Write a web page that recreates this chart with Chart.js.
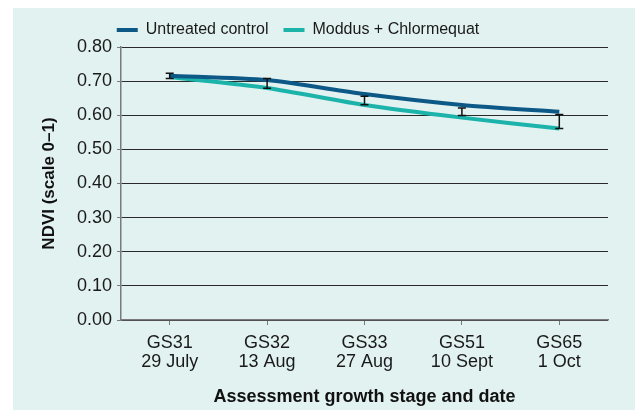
<!DOCTYPE html>
<html>
<head>
<meta charset="utf-8">
<script src="https://cdn.jsdelivr.net/npm/chart.js@4.4.1/dist/chart.umd.min.js"></script>
<style>
  body { margin: 0; background: #ffffff; }
  #panel { position: absolute; left: 13px; top: 8px; width: 622px; height: 402px; background: #e2f2f1; }
  #myChart { position: absolute; left: 0; top: 0; }
</style>
</head>
<body>
<div id="panel"></div>
<canvas id="myChart" width="640" height="410"></canvas>
<script>
// NDVI by assessment growth stage
const stages = ['GS31', 'GS32', 'GS33', 'GS51', 'GS65']
const dates = ['29 July', '13 Aug', '27 Aug', '10 Sept', '1 Oct']
const untreated = [0.716, 0.703, 0.662, 0.630, 0.610]
const moddus = [0.712, 0.680, 0.630, 0.593, 0.561]
// error bar ends at each stage
const errLow = [0.708, 0.679, 0.631, 0.599, 0.561]
const errHigh = [0.723, 0.708, 0.656, 0.621, 0.602]

const FONT = "'Liberation Sans', Arial, Helvetica, sans-serif"

// draws the black error bars on top of the lines
const errorBars = {
    id: 'errorBars',
    afterDatasetsDraw(chart) {
        const ctx = chart.ctx
        const x = chart.scales.x
        const y = chart.scales.y
        ctx.save()
        ctx.strokeStyle = '#111'
        ctx.lineWidth = 1.5
        errLow.forEach((lo, i) => {
            const px = x.getPixelForValue(i)
            const top = y.getPixelForValue(errHigh[i])
            const bot = y.getPixelForValue(lo)
            ctx.beginPath()
            ctx.moveTo(px, top); ctx.lineTo(px, bot)
            ctx.moveTo(px - 4, top); ctx.lineTo(px + 4, top)
            ctx.moveTo(px - 4, bot); ctx.lineTo(px + 4, bot)
            ctx.stroke()
        })
        ctx.restore()
    }
}

const ctx = document.getElementById('myChart')
const myChart = new Chart(ctx, {
    type: 'line',
    data: {
        labels: stages.map((s, i) => [s, dates[i]]),
        datasets: [{
            label: 'Untreated control',
            data: untreated,
            borderColor: '#0c5987',
            backgroundColor: '#0c5987',
            borderWidth: 4,
            pointRadius: 0,
            tension: 0.25
        }, {
            label: 'Moddus + Chlormequat',
            data: moddus,
            borderColor: '#1cb3aa',
            backgroundColor: '#1cb3aa',
            borderWidth: 4,
            pointRadius: 0,
            tension: 0.25
        }]
    },
    options: {
        responsive: false,
        animation: false,
        devicePixelRatio: 1,
        layout: {
            // negative left pad moves the centred legend left a little
            padding: { top: 7, left: -12, right: 32, bottom: 0 }
        },
        scales: {
            x: {
                offset: true,
                afterFit: function(scale) { scale.height = 90 },
                border: { color: '#7a7a7a', width: 1.5 },
                grid: { drawOnChartArea: false, offset: false, tickLength: 5, color: '#7a7a7a' },
                ticks: {
                    color: '#1a1a1a',
                    padding: 8,
                    maxRotation: 0,
                    font: { family: FONT, size: 18, lineHeight: 1.08 }
                },
                title: {
                    display: true,
                    text: 'Assessment growth stage and date',
                    color: '#111',
                    font: { family: FONT, size: 18, weight: 'bold' },
                    padding: { top: 0, bottom: 2.5 }
                }
            },
            y: {
                min: 0,
                max: 0.8,
                afterFit: function(scale) { scale.width = 133 },
                border: { color: '#7a7a7a', width: 1.5 },
                grid: { color: '#2a2a2a', lineWidth: 1, tickLength: 4, tickColor: '#7a7a7a' },
                ticks: {
                    stepSize: 0.1,
                    padding: 5,
                    color: '#1a1a1a',
                    font: { family: FONT, size: 18 },
                    callback: function(val) { return val.toFixed(2) }
                },
                title: {
                    display: true,
                    text: 'NDVI (scale 0–1)',
                    color: '#111',
                    font: { family: FONT, size: 17, weight: 'bold' },
                    padding: { top: 51, bottom: 0 }
                }
            }
        },
        plugins: {
            tooltip: { enabled: false },
            legend: {
                position: 'top',
                maxHeight: 40,
                labels: {
                    boxWidth: 21,
                    boxHeight: 4,
                    padding: 15,
                    color: '#1a1a1a',
                    font: { family: FONT, size: 16 },
                    generateLabels: function(chart) {
                        return chart.data.datasets.map((ds, i) => ({
                            text: ds.label,
                            fillStyle: ds.borderColor,
                            strokeStyle: ds.borderColor,
                            lineWidth: 0,
                            fontColor: '#1a1a1a',
                            hidden: false,
                            datasetIndex: i
                        }))
                    }
                }
            }
        }
    },
    plugins: [errorBars]
})
</script>
</body>
</html>
